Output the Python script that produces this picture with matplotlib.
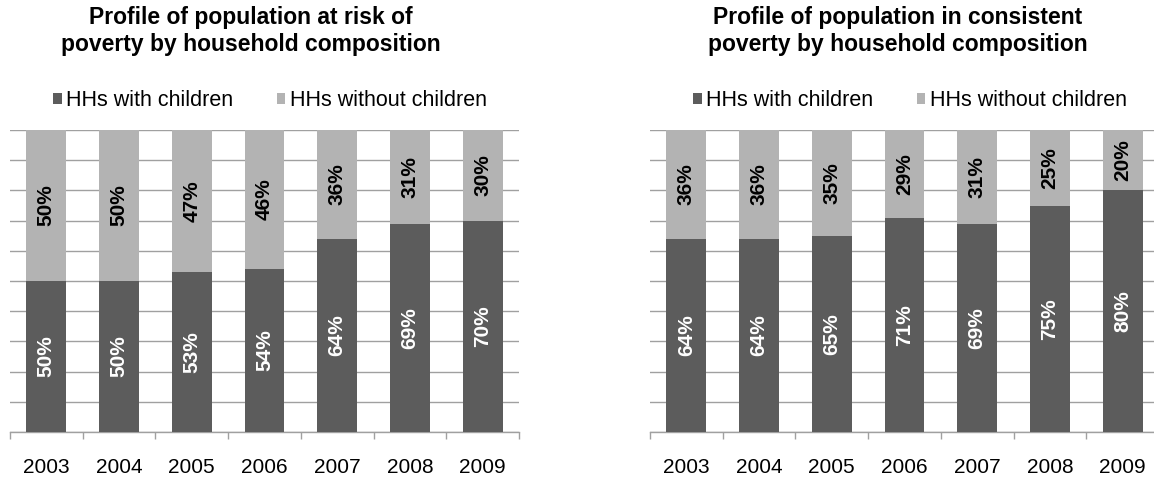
import matplotlib
matplotlib.use("Agg")
import matplotlib.pyplot as plt
from matplotlib.patches import Patch
import numpy as np

years = ["2003", "2004", "2005", "2006", "2007", "2008", "2009"]

risk_with = [50, 50, 53, 54, 64, 69, 70]
risk_without = [50, 50, 47, 46, 36, 31, 30]

consistent_with = [64, 64, 65, 71, 69, 75, 80]
consistent_without = [36, 36, 35, 29, 31, 25, 20]

series_names = ["HHs with children", "HHs without children"]
titles = [
    "Profile of population at risk of\npoverty by household composition",
    "Profile of population in consistent\npoverty by household composition",
]

DARK = "#5c5c5c"
LIGHT = "#b3b3b3"
GRID = "#a0a0a0"

plt.rcParams["font.family"] = ["Liberation Sans", "DejaVu Sans"]

W, H = 1154, 479
fig = plt.figure(figsize=(W / 100, H / 100), dpi=100)


def px_axes(x0, x1, ytop, ybot):
    return fig.add_axes([x0 / W, 1 - ybot / H, (x1 - x0) / W, (ybot - ytop) / H])


def draw_panel(ax, with_vals, without_vals, title, title_x, legend_x):
    x = np.arange(len(years))
    w = 0.55
    ax.bar(x, with_vals, w, color=DARK, zorder=3)
    ax.bar(x, without_vals, w, bottom=with_vals, color=LIGHT, zorder=3)

    for xi, a, b in zip(x, with_vals, without_vals):
        ax.text(xi, a / 2, f"{a}%", rotation=90, ha="center", va="center",
                color="white", fontsize=15, fontweight="bold", zorder=4)
        ax.text(xi, a + b / 2, f"{b}%", rotation=90, ha="center", va="center",
                color="black", fontsize=15, fontweight="bold", zorder=4)

    ax.set_xlim(-0.5, len(years) - 0.5)
    ax.set_ylim(0, 100)
    ax.set_yticks(np.arange(0, 101, 10))
    ax.yaxis.grid(True, color=GRID, linewidth=1.0, zorder=0)
    ax.tick_params(axis="y", left=False, labelleft=False)
    for side in ("left", "right", "top"):
        ax.spines[side].set_visible(False)
    ax.spines["bottom"].set_color(GRID)
    ax.spines["bottom"].set_linewidth(1.0)

    ax.set_xticks(x)
    ax.set_xticklabels(years, fontsize=15)
    ax.set_xticks(np.arange(-0.5, len(years)), minor=True)
    ax.tick_params(axis="x", which="major", length=0, pad=19)
    ax.tick_params(axis="x", which="minor", length=5, color=GRID, width=1.0)

    fig.text(title_x / W, 1 - 31 / H, title, ha="center", va="center",
             fontsize=16.5, fontweight="bold", linespacing=1.25)

    handles = [Patch(facecolor=DARK, edgecolor="none"),
               Patch(facecolor=LIGHT, edgecolor="none")]
    fig.legend(handles, series_names, loc="center",
               bbox_to_anchor=(legend_x / W, 1 - 101 / H), ncol=2,
               frameon=False, fontsize=15.5, handlelength=0.4,
               handleheight=0.4, handletextpad=0.2, columnspacing=2.0,
               borderaxespad=0, borderpad=0)


ax1 = px_axes(10, 519, 130, 432)
ax2 = px_axes(650, 1159, 130, 432)

draw_panel(ax1, risk_with, risk_without, titles[0], 251, 270)
draw_panel(ax2, consistent_with, consistent_without, titles[1], 898, 910)

fig.savefig("out.png", dpi=100)
